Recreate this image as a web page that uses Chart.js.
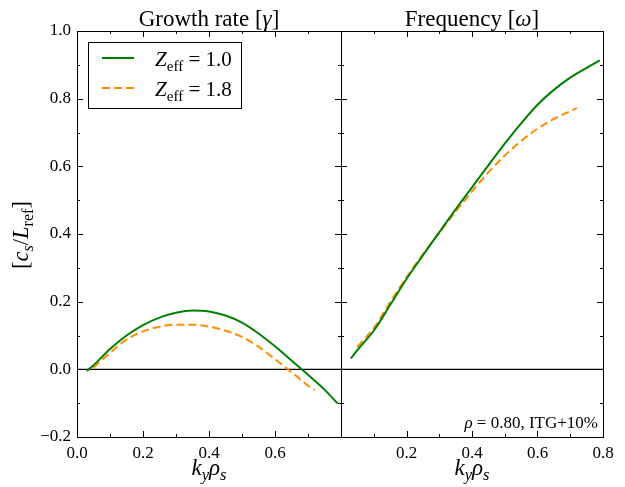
<!DOCTYPE html>
<html>
<head>
<meta charset="utf-8">
<script src="https://cdn.jsdelivr.net/npm/chart.js@4.4.0/dist/chart.umd.min.js"></script>
<style>
  html, body { margin: 0; padding: 0; background: #fff; }
  #wrap { position: relative; width: 625px; height: 487px; }
  canvas { position: absolute; top: 0; }
  #growth { left: 0; }
  #freq { left: 331px; }
</style>
</head>
<body>
<div id="wrap">
  <canvas id="growth" width="352" height="487" style="width:352px;height:487px"></canvas>
  <canvas id="freq" width="294" height="487" style="width:294px;height:487px"></canvas>
</div>
<script>
// Z_eff = 1.0
const kyA = [0.03, 0.05, 0.1, 0.15, 0.2, 0.25, 0.3, 0.35, 0.4, 0.45, 0.5, 0.55, 0.6, 0.65, 0.7, 0.75, 0.79]
const gammaA = [-0.005, 0.012, 0.060, 0.100, 0.131, 0.153, 0.167, 0.174, 0.171, 0.159, 0.138, 0.106, 0.068, 0.026, -0.016, -0.060, -0.101]
const omegaA = [0.032, 0.057, 0.114, 0.190, 0.267, 0.337, 0.405, 0.473, 0.538, 0.603, 0.667, 0.727, 0.782, 0.826, 0.862, 0.891, 0.913]

// Z_eff = 1.8
const kyB = [0.05, 0.1, 0.15, 0.2, 0.25, 0.3, 0.35, 0.4, 0.45, 0.5, 0.55, 0.6, 0.65, 0.7, 0.72]
const gammaB = [0.005, 0.049, 0.088, 0.112, 0.126, 0.132, 0.132, 0.126, 0.114, 0.096, 0.067, 0.030, -0.008, -0.048, -0.061]
const omegaB = [0.066, 0.122, 0.198, 0.272, 0.340, 0.404, 0.466, 0.526, 0.582, 0.632, 0.675, 0.711, 0.740, 0.763, 0.772]

const zeffLabels = ['1.0', '1.8']
const panelTitles = [['Growth rate [', 'γ', ']'], ['Frequency [', 'ω', ']']]
const note = ['ρ', ' = 0.80, ITG+10%']

const SERIF = "'Liberation Serif', 'DejaVu Serif', serif"
const GREEN = '#008000'
const ORANGE = '#ff8c00'

// draw text made of pieces: {t, i: italic, s: subscript}
function rich(ctx, parts, x, y, size, align) {
  const font = p => (p.i ? 'italic ' : '') + (p.s ? size * 0.72 : size) + 'px ' + SERIF
  let w = 0
  parts.forEach(p => { ctx.font = font(p); w += ctx.measureText(p.t).width })
  let cx = align === 'center' ? x - w / 2 : align === 'right' ? x - w : x
  ctx.textAlign = 'left'
  ctx.textBaseline = 'alphabetic'
  ctx.fillStyle = '#000'
  parts.forEach(p => {
    ctx.font = font(p)
    ctx.fillText(p.t, cx, y + (p.s ? size * 0.22 : 0))
    cx += ctx.measureText(p.t).width
  })
}

function pts(xs, ys) {
  return xs.map((x, i) => ({x: x, y: ys[i]}))
}

function isMajor(v) {
  return Math.round(v * 10) % 2 === 0
}

function fmt(v) {
  const s = Math.abs(v).toFixed(1)
  return v < -1e-9 ? '\u2212' + s : s
}

// frame, inward ticks, zero line
const framePlugin = {
  id: 'frame',
  beforeDatasetsDraw(chart) {
    const {ctx, chartArea: a, scales: {y}} = chart
    const y0 = y.getPixelForValue(0)
    ctx.save()
    ctx.strokeStyle = '#000'
    ctx.lineWidth = 1.3
    ctx.beginPath()
    ctx.moveTo(a.left, y0)
    ctx.lineTo(a.right, y0)
    ctx.stroke()
    ctx.restore()
  },
  afterDraw(chart) {
    const {ctx, chartArea: a, scales: {x, y}} = chart
    ctx.save()
    ctx.strokeStyle = '#000'
    ctx.lineWidth = 1
    ctx.strokeRect(a.left + 0.5, a.top + 0.5, a.right - a.left, a.bottom - a.top)
    ctx.beginPath()
    x.ticks.forEach(t => {
      const px = Math.round(x.getPixelForValue(t.value)) + 0.5
      const len = isMajor(t.value) ? 6 : 3
      ctx.moveTo(px, a.bottom); ctx.lineTo(px, a.bottom - len)
      ctx.moveTo(px, a.top); ctx.lineTo(px, a.top + len)
    })
    y.ticks.forEach(t => {
      const py = Math.round(y.getPixelForValue(t.value)) + 0.5
      const len = isMajor(t.value) ? 6 : 3
      ctx.moveTo(a.left, py); ctx.lineTo(a.left + len, py)
      ctx.moveTo(a.right, py); ctx.lineTo(a.right - len, py)
    })
    ctx.stroke()

    const cx = (a.left + a.right) / 2
    const ttl = chart.options.plugins.frame.title
    rich(ctx, [{t: ttl[0]}, {t: ttl[1], i: 1}, {t: ttl[2]}], cx, 26, 23, 'center')
    rich(ctx, [{t: 'k', i: 1}, {t: 'y', i: 1, s: 1}, {t: 'ρ', i: 1}, {t: 's', i: 1, s: 1}], cx, 475, 23, 'center')
    ctx.restore()
  }
}

const growthExtras = {
  id: 'growthExtras',
  afterDraw(chart) {
    const ctx = chart.ctx
    ctx.save()
    // y axis title
    ctx.translate(21, 235)
    ctx.rotate(-Math.PI / 2)
    rich(ctx, [{t: '['}, {t: 'c', i: 1}, {t: 's', i: 1, s: 1}, {t: '/'}, {t: 'L', i: 1}, {t: 'ref', s: 1}, {t: ']'}], 0, 7, 22.5, 'center')
    ctx.restore()

    // legend
    ctx.save()
    ctx.strokeStyle = '#000'
    ctx.lineWidth = 1
    ctx.strokeRect(88.5, 42.5, 153, 66)
    chart.data.datasets.forEach((ds, i) => {
      const ly = 58 + i * 30
      ctx.strokeStyle = ds.borderColor
      ctx.lineWidth = ds.borderWidth
      ctx.setLineDash(ds.borderDash || [])
      ctx.beginPath()
      ctx.moveTo(102, ly)
      ctx.lineTo(134, ly)
      ctx.stroke()
      ctx.setLineDash([])
      rich(ctx, [{t: 'Z', i: 1}, {t: 'eff', s: 1}, {t: ' = ' + zeffLabels[i]}], 155, ly + 8, 21, 'left')
    })
    ctx.restore()
  }
}

const freqExtras = {
  id: 'freqExtras',
  afterDraw(chart) {
    const a = chart.chartArea
    rich(chart.ctx, [{t: note[0], i: 1}, {t: note[1]}], a.right - 5, a.bottom - 9, 17, 'right')
  }
}

function datasets(yA, yB) {
  return [
    {label: 'Zeff = ' + zeffLabels[0], data: pts(kyA, yA), borderColor: GREEN, borderWidth: 2,
     pointRadius: 0, cubicInterpolationMode: 'monotone', fill: false},
    {label: 'Zeff = ' + zeffLabels[1], data: pts(kyB, yB), borderColor: ORANGE, borderWidth: 2,
     borderDash: [8, 4], pointRadius: 0, cubicInterpolationMode: 'monotone', fill: false}
  ]
}

function options(cfg) {
  return {
    responsive: false,
    animation: false,
    layout: {padding: cfg.padding},
    plugins: {legend: {display: false}, tooltip: {enabled: false}, frame: {title: cfg.title}},
    scales: {
      x: {
        type: 'linear', min: 0, max: 0.8,
        grid: {display: false, drawTicks: false},
        border: {display: false},
        afterFit(s) { s.height = 50 },
        ticks: {
          stepSize: 0.1, autoSkip: false, maxRotation: 0, padding: 6, color: '#000',
          font: {family: SERIF, size: 17},
          callback: cfg.xTick
        }
      },
      y: {
        min: -0.2, max: 1.0,
        display: cfg.showY,
        grid: {display: false, drawTicks: false},
        border: {display: false},
        afterFit(s) { s.width = cfg.showY ? 77 : 0 },
        ticks: {
          stepSize: 0.1, autoSkip: false, padding: 6, color: '#000',
          font: {family: SERIF, size: 17},
          callback: v => isMajor(v) ? fmt(v) : ''
        }
      }
    }
  }
}

new Chart(document.getElementById('growth'), {
  type: 'line',
  data: {datasets: datasets(gammaA, gammaB)},
  options: options({
    padding: {left: 0, right: 11, top: 31, bottom: 0},
    title: panelTitles[0],
    showY: true,
    xTick: v => (isMajor(v) && v < 0.75) ? fmt(v) : ''
  }),
  plugins: [framePlugin, growthExtras]
})

new Chart(document.getElementById('freq'), {
  type: 'line',
  data: {datasets: datasets(omegaA, omegaB)},
  options: options({
    padding: {left: 10, right: 22, top: 31, bottom: 0},
    title: panelTitles[1],
    showY: false,
    xTick: v => (isMajor(v) && v > 0.05) ? fmt(v) : ''
  }),
  plugins: [framePlugin, freqExtras]
})
</script>
</body>
</html>
